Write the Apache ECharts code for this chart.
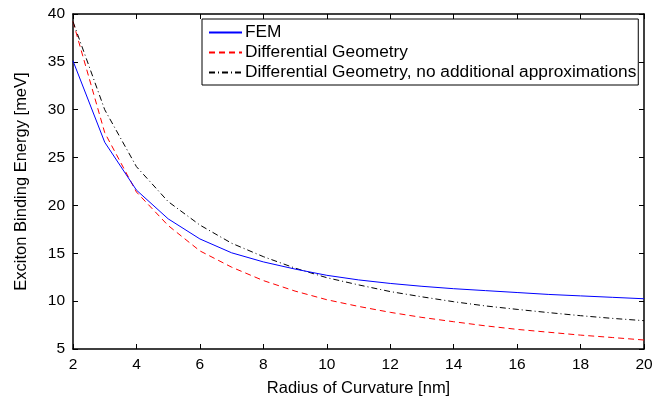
<!DOCTYPE html>
<html>
<head>
<meta charset="utf-8">
<script src="https://cdn.jsdelivr.net/npm/echarts@6/dist/echarts.min.js"></script>
<style>html,body{margin:0;padding:0;background:#fff}#c{width:669px;height:407px}</style>
</head>
<body>
<div id="c"></div>
<script>
const radius = [2,3,4,5,6,7,8,9,10,11,12,13,14,15,16,17,18,19,20];
const femValues = [35.1,26.6,21.6,18.6,16.5,15.05,14.1,13.35,12.7,12.22,11.85,11.55,11.3,11.1,10.9,10.7,10.55,10.4,10.25];
const dgValues = [39.2,27.6,21.4,17.9,15.25,13.55,12.15,11.05,10.15,9.45,8.83,8.3,7.85,7.42,7.05,6.75,6.45,6.2,5.94];
const dgFullValues = [39.2,30.0,24.05,20.4,17.95,16.05,14.65,13.45,12.45,11.7,11.0,10.45,9.94,9.5,9.14,8.8,8.48,8.2,7.96];
const seriesNames = ['FEM','Differential Geometry','Differential Geometry, no additional approximations'];
const xTicks = [2,4,6,8,10,12,14,16,18,20];
const yTicks = [5,10,15,20,25,30,35,40];

const font = 'Liberation Sans, Arial, sans-serif';
const pairs = v => radius.map((r,i)=>[r,v[i]]);
const chart = echarts.init(document.getElementById('c'), null, {renderer:'canvas'});
const axisCommon = {
  axisLine:{show:true,onZero:false,lineStyle:{color:'#000',width:1.5}},
  axisTick:{show:true,inside:true,length:5,lineStyle:{color:'#000',width:1}},
  splitLine:{show:false}
};
chart.setOption({
  animation:false,
  backgroundColor:'#fff',
  grid:{left:73,right:25,top:14,bottom:58},
  legend:{
    orient:'vertical', left:202, top:19,
    data:seriesNames,
    borderColor:'#000', borderWidth:1, backgroundColor:'#fff',
    padding:[5,2,4,6], itemGap:3, itemWidth:33, itemHeight:14,
    itemStyle:{opacity:0},
    textStyle:{fontFamily:font,fontSize:17.3,color:'#000',padding:[0,0,0,-2]}
  },
  xAxis:[
    Object.assign({type:'value',min:2,max:20,interval:2,position:'bottom',
      name:'Radius of Curvature [nm]',nameLocation:'middle',nameGap:31,
      nameTextStyle:{fontFamily:font,fontSize:16.5,color:'#000'},
      axisLabel:{fontFamily:font,fontSize:15.5,color:'#000',margin:8,
        formatter:v=>xTicks.includes(v)?String(v):''}},axisCommon),
    Object.assign({type:'value',min:2,max:20,interval:2,position:'top',axisLabel:{show:false}},axisCommon)
  ],
  yAxis:[
    Object.assign({type:'value',min:5,max:40,interval:5,position:'left',
      name:'Exciton Binding Energy [meV]',nameLocation:'middle',nameGap:43,
      nameTextStyle:{fontFamily:font,fontSize:16.5,color:'#000'},
      axisLabel:{fontFamily:font,fontSize:15.5,color:'#000',margin:8,
        formatter:v=>yTicks.includes(v)?String(v):''}},axisCommon),
    Object.assign({type:'value',min:5,max:40,interval:5,position:'right',axisLabel:{show:false}},axisCommon)
  ],
  series:[
    {name:seriesNames[0],type:'line',data:pairs(femValues),symbol:'none',
      lineStyle:{color:'#0000ff',width:1,type:'solid'},itemStyle:{color:'#0000ff'},z:3},
    {name:seriesNames[1],type:'line',data:pairs(dgValues),symbol:'none',
      lineStyle:{color:'#ff0000',width:1,type:[6,4]},itemStyle:{color:'#ff0000'},z:2},
    {name:seriesNames[2],type:'line',data:pairs(dgFullValues),symbol:'none',
      lineStyle:{color:'#000000',width:1,type:[6,3,1,3]},itemStyle:{color:'#000'},z:2}
  ]
});
</script>
</body>
</html>
